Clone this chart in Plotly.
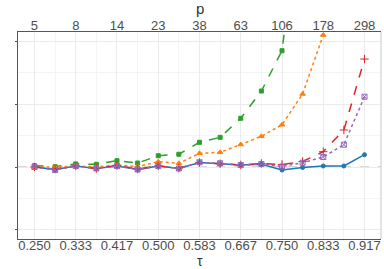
import plotly.graph_objects as go

tau = [0.25 + k / 24 for k in range(17)]
tau_ticks = [0.25 + k / 12 for k in range(9)]
tau_labels = ["0.250", "0.333", "0.417", "0.500", "0.583", "0.667", "0.750", "0.833", "0.917"]
p_labels = ["5", "8", "14", "23", "38", "63", "106", "178", "298"]

blue = [0, -0.04, 0.016, -0.024, 0.016, -0.04, 0.016, -0.024, 0.071, 0.048, 0.032, 0.043, -0.048, -0.008, 0.016, 0.016, 0.195]
green = [0.021, 0.005, 0.048, 0.043, 0.1, 0.063, 0.179, 0.202, 0.392, 0.471, 0.773, 1.206, 1.846, 4.0, 7.0, 11.0, 17.0]
orange = [0, 0, 0.016, 0, 0.032, 0.008, 0.084, 0.059, 0.217, 0.233, 0.357, 0.487, 0.671, 1.159, 2.095, 3.8, 6.5]
red = [0, -0.032, 0.016, -0.024, 0.024, -0.032, 0.016, -0.016, 0.071, 0.052, 0.032, 0.056, 0.04, 0.087, 0.243, 0.587, 1.714]
purple = [0, -0.048, 0.016, -0.024, 0.016, -0.04, 0.016, -0.024, 0.075, 0.059, 0.032, 0.048, 0.008, 0.068, 0.159, 0.354, 1.116]

series = [
    (blue, "#1f77b4", "solid", "circle", 4),
    (green, "#2ca02c", "dash", "square", 4),
    (orange, "#ff7f0e", "dot", "triangle-up", 5),
    (red, "#d62728", "dash", "cross-thin-open", 6),
    (purple, "#9467bd", "dot", "square-x-open", 5),
]

fig = go.Figure()
for vals, col, dash, sym, sz in series:
    fig.add_trace(go.Scatter(
        x=tau, y=vals, mode="lines+markers",
        line=dict(color=col, width=1.5, dash=dash),
        marker=dict(color=col, symbol=sym, size=sz, line=dict(color=col, width=1)),
        showlegend=False, cliponaxis=True,
    ))
fig.add_trace(go.Scatter(x=[tau[0]], y=[0], xaxis="x2", mode="markers",
                         marker=dict(opacity=0), showlegend=False, hoverinfo="skip"))

xr = [0.25 - 0.0333, 0.9167 + 0.0333]
minor_x = [0.25 + 1 / 24 + k / 12 for k in range(8)]
font = dict(family="Liberation Sans, Arial, sans-serif", size=13, color="#4d4d4d")

fig.update_layout(
    width=384, height=269,
    margin=dict(l=18, r=3, t=32, b=30, autoexpand=False),
    paper_bgcolor="white", plot_bgcolor="white",
    font=font,
    xaxis=dict(
        range=xr, tickvals=tau_ticks, ticktext=tau_labels, automargin=False,
        showgrid=True, gridcolor="#ebebeb", gridwidth=1,
        minor=dict(tickvals=minor_x, showgrid=True, gridcolor="#f4f4f4", gridwidth=1),
        showline=True, linecolor="#555555", linewidth=1,
        ticks="", ticklen=0, zeroline=False, ticklabeloverflow="allow",
        ticklabelstandoff=-6,
        tickfont=font,
    ),
    xaxis2=dict(
        range=xr, tickvals=tau_ticks, ticktext=p_labels, overlaying="x", side="top",
        anchor="y", showgrid=False, showline=True, linecolor="#555555", linewidth=1,
        ticks="", ticklen=0, zeroline=False, automargin=False, ticklabeloverflow="allow",
        ticklabelstandoff=-4,
        tickfont=font,
    ),
    yaxis=dict(
        range=[-1.143, 2.143], tickvals=[-1, 0, 1, 2], showticklabels=False,
        showgrid=True, gridcolor="#ebebeb", gridwidth=1, automargin=False,
        minor=dict(tickvals=[-0.5, 0.5, 1.5], showgrid=True, gridcolor="#f4f4f4", gridwidth=1),
        ticks="outside", ticklen=2, tickcolor="#555555",
        showline=True, linecolor="#555555", linewidth=1, zeroline=False,
    ),
    shapes=[
        dict(type="line", xref="paper", yref="y", x0=0, x1=1, y0=0, y1=0,
             line=dict(color="#aaaaaa", width=1, dash="dash"), layer="below"),
        dict(type="line", xref="paper", yref="paper", x0=1, x1=1, y0=0, y1=1,
             line=dict(color="#c8c8c8", width=1)),
    ],
    annotations=[
        dict(text="p", xref="paper", yref="paper", x=0.5, y=1, xanchor="center",
             yanchor="middle", yshift=24, showarrow=False,
             font=dict(size=15, color="#333333", family=font["family"])),
        dict(text="τ", xref="paper", yref="paper", x=0.5, y=0, xanchor="center",
             yanchor="middle", yshift=-22, showarrow=False,
             font=dict(size=14, color="#333333", family=font["family"])),
    ],
)

fig.write_html("out.html", config={"displayModeBar": False},
               post_script="document.body.style.margin='0';")
